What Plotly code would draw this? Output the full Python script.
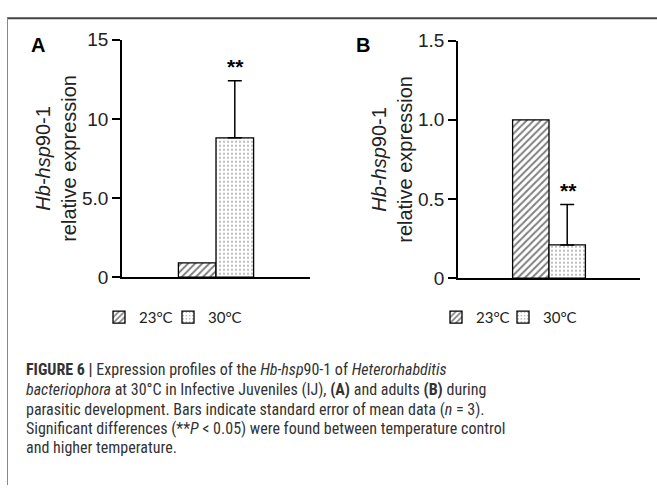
import plotly.graph_objects as go

# ---- data ----
temps = ["23°C", "30°C"]
group_A = ["IJ"]
group_B = ["Adults"]
values_A = [0.9, 8.8]
errors_A = [0.0, 3.6]
values_B = [1.0, 0.21]
errors_B = [0.0, 0.255]
ticks_A = [0, 5, 10, 15]
ticklabels_A = ["0", "5.0", "10", "15"]
ticks_B = [0, 0.5, 1.0, 1.5]
ticklabels_B = ["0", "0.5", "1.0", "1.5"]
caption_lines = [
    "<b>FIGURE 6 |</b> Expression profiles of the <i>Hb-hsp</i>90-1 of <i>Heterorhabditis</i>",
    "<i>bacteriophora</i> at 30°C in Infective Juveniles (IJ), <b>(A)</b> and adults <b>(B)</b> during",
    "parasitic development. Bars indicate standard error of mean data (<i>n</i> = 3).",
    "Significant differences (**<i>P</i> &lt; 0.05) were found between temperature control",
    "and higher temperature.",
]

W, H = 657, 496
def px(x):
    return x / W
def py(y):
    return 1 - y / H

patterns = ["/", "."]
pat_size = [5, 4]
pat_sol = [0.4, 0.14]

fig = go.Figure()

legend_ids = [["legend", "legend2"], ["legend3", "legend4"]]
for panel, (cats, vals, errs, xa, ya) in enumerate([
    (group_A, values_A, errors_A, "x", "y"),
    (group_B, values_B, errors_B, "x2", "y2"),
]):
    for i, t in enumerate(temps):
        fig.add_trace(go.Bar(
            x=cats, y=[vals[i]], name=t, xaxis=xa, yaxis=ya, legend=legend_ids[panel][i],
            marker=dict(color="white", line=dict(color="black", width=1.3),
                        pattern=dict(shape=patterns[i], fgcolor="black", bgcolor="white",
                                     size=pat_size[i], solidity=pat_sol[i], fillmode="overlay")),
            error_y=dict(type="data", symmetric=False, array=[errs[i]], arrayminus=[0],
                         color="black", thickness=1.5, width=7, visible=errs[i] > 0),
        ))

axis_font = dict(family="Liberation Sans, Arial, sans-serif", size=19, color="#222")
title_font = dict(family="Liberation Sans, Arial, sans-serif", size=20, color="#222")
ytitle = "<i>Hb-hsp</i>90-1<br>relative expression"
leg_font = dict(family="Lato, sans-serif", size=15, color="#222")

def leg(xpix):
    return dict(orientation="h", x=px(xpix), y=py(321), xanchor="left", yanchor="middle",
                itemwidth=30, font=leg_font, bgcolor="rgba(0,0,0,0)", itemclick=False)

fig.update_layout(
    width=W, height=H, margin=dict(l=0, r=0, t=0, b=0),
    paper_bgcolor="white", plot_bgcolor="white",
    barmode="group", bargap=0.6, bargroupgap=0,
    showlegend=True,
    xaxis=dict(domain=[px(122), px(310)], anchor="y", showticklabels=False, ticks="",
               showline=True, linecolor="black", linewidth=1.5, showgrid=False, zeroline=False,
               range=[-0.5, 0.5]),
    yaxis=dict(domain=[py(279), py(31)], anchor="x", range=[0, 15], tickvals=ticks_A,
               ticktext=ticklabels_A, ticks="outside", ticklen=8, tickwidth=1.5, tickcolor="black",
               showline=True, linecolor="black", linewidth=1.5, showgrid=False, zeroline=False,
               tickfont=axis_font, title=dict(text=ytitle, font=title_font, standoff=0)),
    xaxis2=dict(domain=[px(458), px(640)], anchor="y2", showticklabels=False, ticks="",
                showline=True, linecolor="black", linewidth=1.5, showgrid=False, zeroline=False,
                range=[-0.5, 0.5]),
    yaxis2=dict(domain=[py(280), py(32)], anchor="x2", range=[0, 1.5], tickvals=ticks_B,
                ticktext=ticklabels_B, ticks="outside", ticklen=8, tickwidth=1.5, tickcolor="black",
                showline=True, linecolor="black", linewidth=1.5, showgrid=False, zeroline=False,
                tickfont=axis_font, title=dict(text=ytitle, font=title_font, standoff=0)),
    legend=leg(99),
    legend2=leg(168),
    legend3=leg(436),
    legend4=leg(503),
)

# significance marks
for xr, yr, cats, vals, errs in [("x", "y", group_A, values_A, errors_A),
                                 ("x2", "y2", group_B, values_B, errors_B)]:
    fig.add_annotation(x=cats[0], y=vals[1] + errs[1], xref=xr, yref=yr,
                       xshift=19, yshift=14, text="<b>**</b>", showarrow=False,
                       font=dict(family="Liberation Sans, Arial", size=21, color="black"))

# panel letters
for lab, xx in [("A", 38), ("B", 363)]:
    fig.add_annotation(x=px(xx), y=py(37), xref="paper", yref="paper", text=f"<b>{lab}</b>",
                       showarrow=False, xanchor="center", yanchor="middle",
                       font=dict(family="Liberation Sans, Arial", size=20, color="black"))

# caption
cap_y = [375, 396, 417, 437, 457]
for line, yy in zip(caption_lines, cap_y):
    fig.add_annotation(x=px(24), y=py(yy), xref="paper", yref="paper", text=line,
                       showarrow=False, xanchor="left", yanchor="middle", align="left",
                       font=dict(family="Roboto Condensed, Liberation Sans, sans-serif",
                                 size=16, color="#333"))

# frame
fig.add_shape(type="line", xref="paper", yref="paper", x0=px(7), x1=1, y0=py(8.5), y1=py(8.5),
              line=dict(color="#444", width=2))
fig.add_shape(type="line", xref="paper", yref="paper", x0=px(7.5), x1=px(7.5), y0=py(8), y1=0,
              line=dict(color="#888", width=1))

fig.write_html("out.html", config={"displayModeBar": False},
               post_script="document.body.style.margin='0px';")
